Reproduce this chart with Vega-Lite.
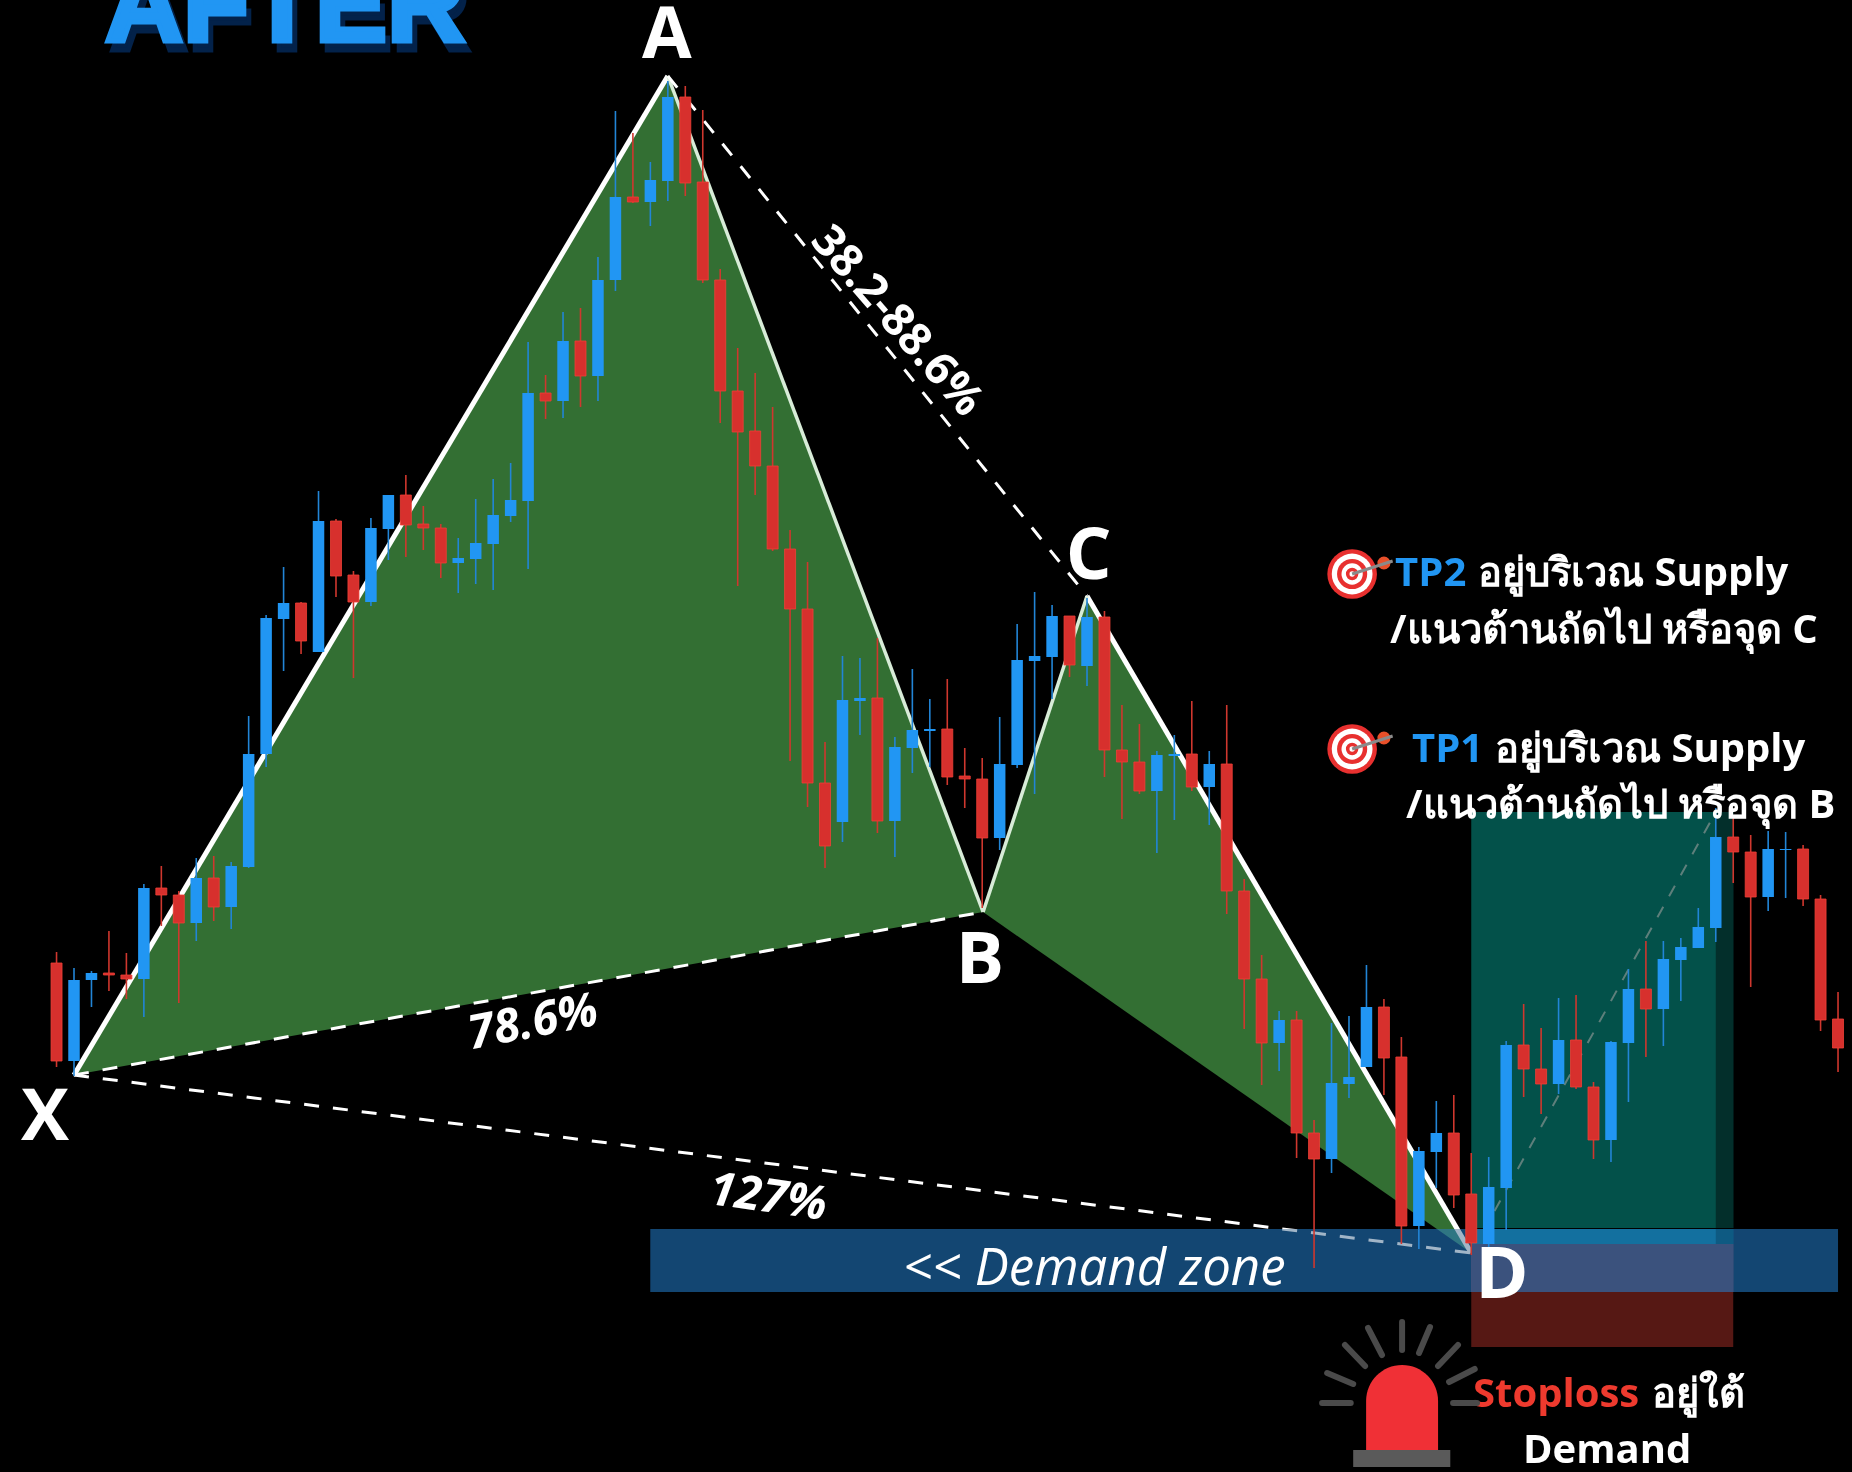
{"$schema":"https://vega.github.io/schema/vega-lite/v6.json","width":1852,"height":1472,"autosize":"none","padding":0,"background":"#000000","config":{"view":{"stroke":null},"scale":{"continuousPadding":0}},
"datasets":{
"candles":[
{"t":1,"o":509,"h":520,"l":405,"c":411,"dir":"down"},{"t":2,"o":411,"h":504,"l":396,"c":492,"dir":"up"},{"t":3,"o":492,"h":501,"l":465,"c":499,"dir":"up"},{"t":4,"o":499,"h":541,"l":481,"c":497,"dir":"down"},{"t":5,"o":497,"h":519,"l":473,"c":493,"dir":"down"},{"t":6,"o":493,"h":588,"l":455,"c":584,"dir":"up"},{"t":7,"o":584,"h":606,"l":546,"c":577,"dir":"down"},{"t":8,"o":577,"h":581,"l":469,"c":549,"dir":"down"},{"t":9,"o":549,"h":614,"l":531,"c":594,"dir":"up"},{"t":10,"o":594,"h":616,"l":551,"c":565,"dir":"down"},
{"t":11,"o":565,"h":610,"l":543,"c":606,"dir":"up"},{"t":12,"o":605,"h":756,"l":604,"c":718,"dir":"up"},{"t":13,"o":718,"h":857,"l":705,"c":854,"dir":"up"},{"t":14,"o":853,"h":905,"l":801,"c":869,"dir":"up"},{"t":15,"o":869,"h":870,"l":818,"c":831,"dir":"down"},{"t":16,"o":820,"h":981,"l":820,"c":951,"dir":"up"},{"t":17,"o":951,"h":953,"l":875,"c":896,"dir":"down"},{"t":18,"o":897,"h":901,"l":794,"c":870,"dir":"down"},{"t":19,"o":870,"h":954,"l":866,"c":944,"dir":"up"},{"t":20,"o":943,"h":977,"l":912,"c":977,"dir":"up"},
{"t":21,"o":977,"h":997,"l":915,"c":947,"dir":"down"},{"t":22,"o":948,"h":966,"l":922,"c":944,"dir":"down"},{"t":23,"o":944,"h":948,"l":894,"c":909,"dir":"down"},{"t":24,"o":909,"h":934,"l":879,"c":914,"dir":"up"},{"t":25,"o":913,"h":973,"l":888,"c":929,"dir":"up"},{"t":26,"o":928,"h":993,"l":882,"c":957,"dir":"up"},{"t":27,"o":956,"h":1009,"l":950,"c":972,"dir":"up"},{"t":28,"o":971,"h":1130,"l":903,"c":1079,"dir":"up"},{"t":29,"o":1079,"h":1097,"l":1053,"c":1071,"dir":"down"},{"t":30,"o":1071,"h":1160,"l":1054,"c":1131,"dir":"up"},
{"t":31,"o":1131,"h":1164,"l":1065,"c":1096,"dir":"down"},{"t":32,"o":1096,"h":1215,"l":1071,"c":1192,"dir":"up"},{"t":33,"o":1192,"h":1361,"l":1181,"c":1275,"dir":"up"},{"t":34,"o":1275,"h":1339,"l":1269,"c":1270,"dir":"down"},{"t":35,"o":1270,"h":1310,"l":1246,"c":1292,"dir":"up"},{"t":36,"o":1291,"h":1391,"l":1271,"c":1375,"dir":"up"},{"t":37,"o":1375,"h":1386,"l":1276,"c":1289,"dir":"down"},{"t":38,"o":1290,"h":1362,"l":1189,"c":1192,"dir":"down"},{"t":39,"o":1192,"h":1203,"l":1049,"c":1081,"dir":"down"},{"t":40,"o":1081,"h":1124,"l":886,"c":1040,"dir":"down"},
{"t":41,"o":1041,"h":1099,"l":977,"c":1006,"dir":"down"},{"t":42,"o":1006,"h":1065,"l":921,"c":923,"dir":"down"},{"t":43,"o":923,"h":942,"l":711,"c":863,"dir":"down"},{"t":44,"o":863,"h":910,"l":665,"c":689,"dir":"down"},{"t":45,"o":689,"h":730,"l":604,"c":626,"dir":"down"},{"t":46,"o":650,"h":816,"l":630,"c":772,"dir":"up"},{"t":47,"o":771,"h":814,"l":737,"c":774,"dir":"up"},{"t":48,"o":774,"h":834,"l":639,"c":651,"dir":"down"},{"t":49,"o":651,"h":735,"l":615,"c":725,"dir":"up"},{"t":50,"o":724,"h":803,"l":699,"c":742,"dir":"up"},
{"t":51,"o":741,"h":773,"l":705,"c":743,"dir":"up"},{"t":52,"o":743,"h":793,"l":687,"c":695,"dir":"down"},{"t":53,"o":696,"h":724,"l":664,"c":693,"dir":"down"},{"t":54,"o":693,"h":714,"l":564,"c":634,"dir":"down"},{"t":55,"o":634,"h":755,"l":622,"c":708,"dir":"up"},{"t":56,"o":707,"h":848,"l":704,"c":812,"dir":"up"},{"t":57,"o":811,"h":880,"l":678,"c":816,"dir":"up"},{"t":58,"o":815,"h":867,"l":773,"c":856,"dir":"up"},{"t":59,"o":856,"h":856,"l":795,"c":807,"dir":"down"},{"t":60,"o":806,"h":874,"l":786,"c":855,"dir":"up"},
{"t":61,"o":855,"h":861,"l":695,"c":722,"dir":"down"},{"t":62,"o":722,"h":767,"l":653,"c":710,"dir":"down"},{"t":63,"o":710,"h":748,"l":678,"c":681,"dir":"down"},{"t":64,"o":681,"h":721,"l":619,"c":717,"dir":"up"},{"t":65,"o":716,"h":737,"l":652,"c":718,"dir":"up"},{"t":66,"o":718,"h":771,"l":681,"c":685,"dir":"down"},{"t":67,"o":685,"h":721,"l":647,"c":708,"dir":"up"},{"t":68,"o":708,"h":767,"l":558,"c":581,"dir":"down"},{"t":69,"o":581,"h":593,"l":443,"c":493,"dir":"down"},{"t":70,"o":493,"h":517,"l":387,"c":429,"dir":"down"},
{"t":71,"o":429,"h":461,"l":401,"c":452,"dir":"up"},{"t":72,"o":452,"h":461,"l":314,"c":339,"dir":"down"},{"t":73,"o":339,"h":352,"l":204,"c":313,"dir":"down"},{"t":74,"o":313,"h":449,"l":299,"c":389,"dir":"up"},{"t":75,"o":388,"h":456,"l":374,"c":395,"dir":"up"},{"t":76,"o":405,"h":507,"l":405,"c":465,"dir":"up"},{"t":77,"o":465,"h":473,"l":377,"c":414,"dir":"down"},{"t":78,"o":415,"h":435,"l":228,"c":246,"dir":"down"},{"t":79,"o":246,"h":325,"l":223,"c":321,"dir":"up"},{"t":80,"o":320,"h":371,"l":284,"c":339,"dir":"up"},
{"t":81,"o":339,"h":377,"l":264,"c":277,"dir":"down"},{"t":82,"o":278,"h":319,"l":217,"c":229,"dir":"down"},{"t":83,"o":228,"h":315,"l":225,"c":285,"dir":"up"},{"t":84,"o":284,"h":431,"l":242,"c":427,"dir":"up"},{"t":85,"o":427,"h":468,"l":375,"c":403,"dir":"down"},{"t":86,"o":403,"h":444,"l":358,"c":388,"dir":"down"},{"t":87,"o":388,"h":474,"l":378,"c":432,"dir":"up"},{"t":88,"o":432,"h":477,"l":383,"c":385,"dir":"down"},{"t":89,"o":385,"h":390,"l":313,"c":332,"dir":"down"},{"t":90,"o":332,"h":431,"l":310,"c":430,"dir":"up"},
{"t":91,"o":429,"h":503,"l":370,"c":483,"dir":"up"},{"t":92,"o":483,"h":531,"l":415,"c":463,"dir":"down"},{"t":93,"o":463,"h":531,"l":426,"c":513,"dir":"up"},{"t":94,"o":512,"h":534,"l":471,"c":525,"dir":"up"},{"t":95,"o":524,"h":564,"l":524,"c":545,"dir":"up"},{"t":96,"o":544,"h":664,"l":530,"c":635,"dir":"up"},{"t":97,"o":635,"h":656,"l":589,"c":620,"dir":"down"},{"t":98,"o":620,"h":637,"l":485,"c":575,"dir":"down"},{"t":99,"o":575,"h":641,"l":561,"c":623,"dir":"up"},{"t":100,"o":622,"h":640,"l":574,"c":623,"dir":"up"},
{"t":101,"o":623,"h":627,"l":566,"c":573,"dir":"down"},{"t":102,"o":573,"h":577,"l":441,"c":452,"dir":"down"},{"t":103,"o":453,"h":480,"l":400,"c":424,"dir":"down"}],
"legs":[
{"leg":"X-A","t":2,"p":397,"t2":36,"p2":1396},{"leg":"A-B","t":36,"p":1396,"t2":54.05,"p2":560},{"leg":"B-C","t":54.05,"p":560,"t2":60,"p2":876},{"leg":"C-D","t":60,"p":876,"t2":82,"p2":219}],
"ratios":[
{"leg":"X-B","t":2,"p":397,"t2":54.05,"p2":560},{"leg":"A-C","t":36,"p":1396,"t2":60,"p2":876},{"leg":"X-D","t":2,"p":397,"t2":82,"p2":219}],
"fills":[
{"tri":"XAB","t":2,"p":397,"p2":397},{"tri":"XAB","t":36,"p":1396,"p2":503.5},{"tri":"XAB","t":54.05,"p":560,"p2":560},
{"tri":"BCD","t":54.05,"p":560,"p2":560},{"tri":"BCD","t":60,"p":876,"p2":487.4},{"tri":"BCD","t":82,"p":219,"p2":219}],
"boxes":[
{"box":"profit","t":82,"t2":97,"p":244,"p2":660},{"box":"profitEnd","t":96,"t2":97,"p":244,"p2":660},{"box":"risk","t":82,"t2":97,"p":125,"p2":228}],
"zone":[{"box":"demand","t":35,"t2":103,"p":180,"p2":243}],
"zoneLeft":[{"box":"demand","t":35,"t2":82,"p":180,"p2":243}],
"overlaps":[
{"box":"demandProfit","t":82,"t2":97,"p":228,"p2":243},{"box":"demandProfitEnd","t":96,"t2":97,"p":228,"p2":243},{"box":"demandRisk","t":82,"t2":97,"p":180,"p2":228}],
"rings":[
{"target":"TP2","t":75.18,"p":898},{"target":"TP1","t":75.18,"p":723}],
"darts":[{"target":"TP2","t":75.18,"p":898,"t2":77.5,"p2":911},{"target":"TP1","t":75.18,"p":723,"t2":77.5,"p2":736}],
"fletch":[{"target":"TP2","t":77.0,"p":909},{"target":"TP1","t":77.0,"p":734}],
"rays":[{"t":73.46,"p":69,"t2":75.1,"p2":69},{"t":73.75,"p":99,"t2":75.24,"p2":88},{"t":74.77,"p":127,"t2":75.92,"p2":106},{"t":76.09,"p":144,"t2":76.89,"p2":117},{"t":78.04,"p":150,"t2":78.04,"p2":122},{"t":79.64,"p":145,"t2":79.01,"p2":119},{"t":81.24,"p":127,"t2":80.1,"p2":106},{"t":82.2,"p":103,"t2":80.73,"p2":90},{"t":80.96,"t2":82.33,"p":69,"p2":69}]
},
"layer":[
{"data":{"name":"boxes"},"mark":{"type":"rect"},"encoding":{"x":{"field":"t","type":"quantitative","axis":null,"scale":{"domain":[-2.237,103.8],"nice":false,"zero":false,"padding":0}},"x2":{"field":"t2"},"y":{"field":"p","type":"quantitative","axis":null,"scale":{"domain":[0,1472],"nice":false,"zero":false}},"y2":{"field":"p2"},"color":{"field":"box","type":"nominal","legend":null,"scale":{"domain":["profit","profitEnd","risk","demandProfit","demandProfitEnd","demandRisk"],"range":["#03514a","#032f2b","#561814","#13709f","#0e5a82","#3b527d"]}}}},
{"data":{"name":"fills"},"mark":{"type":"area","color":"#336f33","orient":"vertical"},"encoding":{"x":{"field":"t","type":"quantitative","axis":null,"scale":{"domain":[-2.237,103.8],"nice":false,"zero":false,"padding":0}},"y":{"field":"p","type":"quantitative","axis":null,"scale":{"domain":[0,1472],"nice":false,"zero":false}},"y2":{"field":"p2"},"detail":{"field":"tri"}}},
{"data":{"name":"legs"},"transform":[{"filter":"datum.leg==='X-A'||datum.leg==='C-D'"}],"mark":{"type":"rule","color":"#ffffff","strokeWidth":5},"encoding":{"x":{"field":"t","type":"quantitative","axis":null,"scale":{"domain":[-2.237,103.8],"nice":false,"zero":false,"padding":0}},"x2":{"field":"t2"},"y":{"field":"p","type":"quantitative","axis":null,"scale":{"domain":[0,1472],"nice":false,"zero":false}},"y2":{"field":"p2"}}},
{"data":{"name":"legs"},"transform":[{"filter":"datum.leg==='A-B'||datum.leg==='B-C'"}],"mark":{"type":"rule","color":"#d8ecd8","strokeWidth":3.5},"encoding":{"x":{"field":"t","type":"quantitative","axis":null,"scale":{"domain":[-2.237,103.8],"nice":false,"zero":false,"padding":0}},"x2":{"field":"t2"},"y":{"field":"p","type":"quantitative","axis":null,"scale":{"domain":[0,1472],"nice":false,"zero":false}},"y2":{"field":"p2"}}},
{"data":{"name":"ratios"},"mark":{"type":"rule","color":"#ffffff","strokeWidth":3,"strokeDash":[15,14]},"encoding":{"x":{"field":"t","type":"quantitative","axis":null,"scale":{"domain":[-2.237,103.8],"nice":false,"zero":false,"padding":0}},"x2":{"field":"t2"},"y":{"field":"p","type":"quantitative","axis":null,"scale":{"domain":[0,1472],"nice":false,"zero":false}},"y2":{"field":"p2"}}},
{"data":{"values":[{"t":82,"p":219,"t2":96,"p2":660}]},"mark":{"type":"rule","color":"#7d8f8c","opacity":0.75,"strokeWidth":2,"strokeDash":[12,12]},"encoding":{"x":{"field":"t","type":"quantitative","axis":null,"scale":{"domain":[-2.237,103.8],"nice":false,"zero":false,"padding":0}},"x2":{"field":"t2"},"y":{"field":"p","type":"quantitative","axis":null,"scale":{"domain":[0,1472],"nice":false,"zero":false}},"y2":{"field":"p2"}}},
{"data":{"name":"zone"},"mark":{"type":"rect","color":"#134672","blend":"screen"},"encoding":{"x":{"field":"t","type":"quantitative","axis":null,"scale":{"domain":[-2.237,103.8],"nice":false,"zero":false,"padding":0}},"x2":{"field":"t2"},"y":{"field":"p","type":"quantitative","axis":null,"scale":{"domain":[0,1472],"nice":false,"zero":false}},"y2":{"field":"p2"}}},
{"data":{"name":"zoneLeft"},"mark":{"type":"rect","color":"#134672","opacity":0.4},"encoding":{"x":{"field":"t","type":"quantitative","axis":null,"scale":{"domain":[-2.237,103.8],"nice":false,"zero":false,"padding":0}},"x2":{"field":"t2"},"y":{"field":"p","type":"quantitative","axis":null,"scale":{"domain":[0,1472],"nice":false,"zero":false}},"y2":{"field":"p2"}}},
{"data":{"name":"overlaps"},"mark":{"type":"rect"},"encoding":{"x":{"field":"t","type":"quantitative","axis":null,"scale":{"domain":[-2.237,103.8],"nice":false,"zero":false,"padding":0}},"x2":{"field":"t2"},"y":{"field":"p","type":"quantitative","axis":null,"scale":{"domain":[0,1472],"nice":false,"zero":false}},"y2":{"field":"p2"},"color":{"field":"box","type":"nominal","legend":null,"scale":{"domain":["profit","profitEnd","risk","demandProfit","demandProfitEnd","demandRisk"],"range":["#03514a","#032f2b","#561814","#13709f","#0e5a82","#3b527d"]}}}},
{"data":{"name":"candles"},"mark":{"type":"rule","strokeWidth":1.6},"encoding":{"x":{"field":"t","type":"quantitative","axis":null,"scale":{"domain":[-2.237,103.8],"nice":false,"zero":false,"padding":0}},"y":{"field":"h","type":"quantitative","axis":null,"scale":{"domain":[0,1472],"nice":false,"zero":false}},"y2":{"field":"l"},"stroke":{"field":"dir","type":"nominal","legend":null,"scale":{"domain":["up","down"],"range":["#2285d6","#cf372e"]}}}},
{"data":{"name":"candles"},"mark":{"type":"bar","size":11,"strokeWidth":0.8,"fill":"#d7302d","stroke":"#ef4036"},"transform":[{"filter":"datum.dir==='down'"}],"encoding":{"x":{"field":"t","type":"quantitative","axis":null,"scale":{"domain":[-2.237,103.8],"nice":false,"zero":false,"padding":0}},"y":{"field":"o","type":"quantitative","axis":null,"scale":{"domain":[0,1472],"nice":false,"zero":false}},"y2":{"field":"c"}}},
{"data":{"name":"candles"},"mark":{"type":"bar","size":11.5,"fill":"#2196f3"},"transform":[{"filter":"datum.dir==='up'"}],"encoding":{"x":{"field":"t","type":"quantitative","axis":null,"scale":{"domain":[-2.237,103.8],"nice":false,"zero":false,"padding":0}},"y":{"field":"o","type":"quantitative","axis":null,"scale":{"domain":[0,1472],"nice":false,"zero":false}},"y2":{"field":"c"}}},
{"data":{"values":[{"label":"AFTER","t":3.78,"p":1431}]},"mark":{"type":"text","font":"Liberation Sans","fontWeight":"bold","fontSize":108,"align":"left","baseline":"alphabetic","dx":5,"dy":9,"fill":"#03224a","stroke":"#03224a","strokeWidth":5},"encoding":{"x":{"field":"t","type":"quantitative","axis":null,"scale":{"domain":[-2.237,103.8],"nice":false,"zero":false,"padding":0}},"y":{"field":"p","type":"quantitative","axis":null,"scale":{"domain":[0,1472],"nice":false,"zero":false}},"text":{"field":"label"}}},
{"data":{"values":[{"label":"AFTER","t":3.78,"p":1431}]},"mark":{"type":"text","font":"Liberation Sans","fontWeight":"bold","fontSize":108,"align":"left","baseline":"alphabetic","fill":"#2196f3","stroke":"#2196f3","strokeWidth":5},"encoding":{"x":{"field":"t","type":"quantitative","axis":null,"scale":{"domain":[-2.237,103.8],"nice":false,"zero":false,"padding":0}},"y":{"field":"p","type":"quantitative","axis":null,"scale":{"domain":[0,1472],"nice":false,"zero":false}},"text":{"field":"label"}}},
{"data":{"values":[{"label":"A","t":35.95,"p":1414},{"label":"X","t":0.34,"p":332},{"label":"B","t":53.87,"p":489},{"label":"C","t":60.1,"p":893},{"label":"D","t":83.76,"p":174}]},"mark":{"type":"text","font":"Open Sans","fontWeight":"bold","fontSize":72,"align":"center","baseline":"alphabetic","color":"#ffffff"},"encoding":{"x":{"field":"t","type":"quantitative","axis":null,"scale":{"domain":[-2.237,103.8],"nice":false,"zero":false,"padding":0}},"y":{"field":"p","type":"quantitative","axis":null,"scale":{"domain":[0,1472],"nice":false,"zero":false}},"text":{"field":"label"}}},
{"data":{"values":[{"label":"78.6%","t":28.28,"p":449}]},"mark":{"type":"text","font":"Open Sans","fontWeight":"bold","fontStyle":"italic","fontSize":47,"align":"center","baseline":"middle","angle":349,"color":"#ffffff"},"encoding":{"x":{"field":"t","type":"quantitative","axis":null,"scale":{"domain":[-2.237,103.8],"nice":false,"zero":false,"padding":0}},"y":{"field":"p","type":"quantitative","axis":null,"scale":{"domain":[0,1472],"nice":false,"zero":false}},"text":{"field":"label"}}},
{"data":{"values":[{"label":"127%","t":41.74,"p":274}]},"mark":{"type":"text","font":"Open Sans","fontWeight":"bold","fontStyle":"italic","fontSize":47,"align":"center","baseline":"middle","angle":8,"color":"#ffffff"},"encoding":{"x":{"field":"t","type":"quantitative","axis":null,"scale":{"domain":[-2.237,103.8],"nice":false,"zero":false,"padding":0}},"y":{"field":"p","type":"quantitative","axis":null,"scale":{"domain":[0,1472],"nice":false,"zero":false}},"text":{"field":"label"}}},
{"data":{"values":[{"label":"38.2-88.6%","t":49.12,"p":1151}]},"mark":{"type":"text","font":"Open Sans","fontWeight":"bold","fontSize":45,"align":"center","baseline":"middle","angle":49,"color":"#ffffff"},"encoding":{"x":{"field":"t","type":"quantitative","axis":null,"scale":{"domain":[-2.237,103.8],"nice":false,"zero":false,"padding":0}},"y":{"field":"p","type":"quantitative","axis":null,"scale":{"domain":[0,1472],"nice":false,"zero":false}},"text":{"field":"label"}}},
{"data":{"values":[{"label":"<< Demand zone","t":49.47,"p":187}]},"mark":{"type":"text","font":"Open Sans","fontStyle":"italic","fontSize":51,"align":"left","baseline":"alphabetic","color":"#ffffff"},"encoding":{"x":{"field":"t","type":"quantitative","axis":null,"scale":{"domain":[-2.237,103.8],"nice":false,"zero":false,"padding":0}},"y":{"field":"p","type":"quantitative","axis":null,"scale":{"domain":[0,1472],"nice":false,"zero":false}},"text":{"field":"label"}}},
{"data":{"values":[{"label":"TP2","t":77.64,"p":886},{"label":"TP1","t":78.61,"p":710}]},"mark":{"type":"text","font":"Open Sans","fontWeight":"bold","fontSize":40,"align":"left","baseline":"alphabetic","color":"#2196f3"},"encoding":{"x":{"field":"t","type":"quantitative","axis":null,"scale":{"domain":[-2.237,103.8],"nice":false,"zero":false,"padding":0}},"y":{"field":"p","type":"quantitative","axis":null,"scale":{"domain":[0,1472],"nice":false,"zero":false}},"text":{"field":"label"}}},
{"data":{"values":[{"label":"อยู่บริเวณ Supply","t":82.39,"p":886},{"label":"/แนวต้านถัดไป หรือจุด C","t":77.35,"p":829},{"label":"อยู่บริเวณ Supply","t":83.36,"p":710},{"label":"/แนวต้านถัดไป หรือจุด B","t":78.27,"p":654},{"label":"อยู่ใต้","t":92.35,"p":65},{"label":"Demand","t":84.96,"p":9}]},"mark":{"type":"text","font":"Open Sans","fontWeight":"bold","fontSize":40,"align":"left","baseline":"alphabetic","color":"#ffffff"},"encoding":{"x":{"field":"t","type":"quantitative","axis":null,"scale":{"domain":[-2.237,103.8],"nice":false,"zero":false,"padding":0}},"y":{"field":"p","type":"quantitative","axis":null,"scale":{"domain":[0,1472],"nice":false,"zero":false}},"text":{"field":"label"}}},
{"data":{"values":[{"label":"Stoploss","t":82.1,"p":65}]},"mark":{"type":"text","font":"Open Sans","fontWeight":"bold","fontSize":40,"align":"left","baseline":"alphabetic","color":"#ee3a2e"},"encoding":{"x":{"field":"t","type":"quantitative","axis":null,"scale":{"domain":[-2.237,103.8],"nice":false,"zero":false,"padding":0}},"y":{"field":"p","type":"quantitative","axis":null,"scale":{"domain":[0,1472],"nice":false,"zero":false}},"text":{"field":"label"}}},
{"data":{"name":"fletch"},"mark":{"type":"point","filled":true,"size":170,"color":"#e8502a","opacity":1},"encoding":{"x":{"field":"t","type":"quantitative","axis":null,"scale":{"domain":[-2.237,103.8],"nice":false,"zero":false,"padding":0}},"y":{"field":"p","type":"quantitative","axis":null,"scale":{"domain":[0,1472],"nice":false,"zero":false}}}},
{"data":{"name":"rings"},"mark":{"type":"point","filled":true,"opacity":1,"size":2463,"color":"#e8302f"},"encoding":{"x":{"field":"t","type":"quantitative","axis":null,"scale":{"domain":[-2.237,103.8],"nice":false,"zero":false,"padding":0}},"y":{"field":"p","type":"quantitative","axis":null,"scale":{"domain":[0,1472],"nice":false,"zero":false}}}},
{"data":{"name":"rings"},"mark":{"type":"point","filled":true,"opacity":1,"size":1662,"color":"#ffffff"},"encoding":{"x":{"field":"t","type":"quantitative","axis":null,"scale":{"domain":[-2.237,103.8],"nice":false,"zero":false,"padding":0}},"y":{"field":"p","type":"quantitative","axis":null,"scale":{"domain":[0,1472],"nice":false,"zero":false}}}},
{"data":{"name":"rings"},"mark":{"type":"point","filled":true,"opacity":1,"size":908,"color":"#e8302f"},"encoding":{"x":{"field":"t","type":"quantitative","axis":null,"scale":{"domain":[-2.237,103.8],"nice":false,"zero":false,"padding":0}},"y":{"field":"p","type":"quantitative","axis":null,"scale":{"domain":[0,1472],"nice":false,"zero":false}}}},
{"data":{"name":"rings"},"mark":{"type":"point","filled":true,"opacity":1,"size":452,"color":"#ffffff"},"encoding":{"x":{"field":"t","type":"quantitative","axis":null,"scale":{"domain":[-2.237,103.8],"nice":false,"zero":false,"padding":0}},"y":{"field":"p","type":"quantitative","axis":null,"scale":{"domain":[0,1472],"nice":false,"zero":false}}}},
{"data":{"name":"rings"},"mark":{"type":"point","filled":true,"opacity":1,"size":154,"color":"#e8302f"},"encoding":{"x":{"field":"t","type":"quantitative","axis":null,"scale":{"domain":[-2.237,103.8],"nice":false,"zero":false,"padding":0}},"y":{"field":"p","type":"quantitative","axis":null,"scale":{"domain":[0,1472],"nice":false,"zero":false}}}},
{"data":{"name":"rings"},"mark":{"type":"point","filled":true,"opacity":1,"size":28,"color":"#ffffff"},"encoding":{"x":{"field":"t","type":"quantitative","axis":null,"scale":{"domain":[-2.237,103.8],"nice":false,"zero":false,"padding":0}},"y":{"field":"p","type":"quantitative","axis":null,"scale":{"domain":[0,1472],"nice":false,"zero":false}}}},
{"data":{"name":"darts"},"mark":{"type":"rule","color":"#8a8a8a","strokeWidth":3},"encoding":{"x":{"field":"t","type":"quantitative","axis":null,"scale":{"domain":[-2.237,103.8],"nice":false,"zero":false,"padding":0}},"x2":{"field":"t2"},"y":{"field":"p","type":"quantitative","axis":null,"scale":{"domain":[0,1472],"nice":false,"zero":false}},"y2":{"field":"p2"}}},
{"data":{"name":"rays"},"mark":{"type":"rule","color":"#4a4a4a","strokeWidth":6,"strokeCap":"round"},"encoding":{"x":{"field":"t","type":"quantitative","axis":null,"scale":{"domain":[-2.237,103.8],"nice":false,"zero":false,"padding":0}},"x2":{"field":"t2"},"y":{"field":"p","type":"quantitative","axis":null,"scale":{"domain":[0,1472],"nice":false,"zero":false}},"y2":{"field":"p2"}}},
{"data":{"values":[{"part":"lamp","t":75.98,"t2":80.1,"p":22,"p2":107}]},"mark":{"type":"rect","color":"#f03036","cornerRadiusTopLeft":36,"cornerRadiusTopRight":36},"encoding":{"x":{"field":"t","type":"quantitative","axis":null,"scale":{"domain":[-2.237,103.8],"nice":false,"zero":false,"padding":0}},"x2":{"field":"t2"},"y":{"field":"p","type":"quantitative","axis":null,"scale":{"domain":[0,1472],"nice":false,"zero":false}},"y2":{"field":"p2"}}},
{"data":{"values":[{"part":"base","t":75.24,"t2":80.8,"p":5,"p2":22}]},"mark":{"type":"rect","color":"#5a5a5a"},"encoding":{"x":{"field":"t","type":"quantitative","axis":null,"scale":{"domain":[-2.237,103.8],"nice":false,"zero":false,"padding":0}},"x2":{"field":"t2"},"y":{"field":"p","type":"quantitative","axis":null,"scale":{"domain":[0,1472],"nice":false,"zero":false}},"y2":{"field":"p2"}}}
]}
